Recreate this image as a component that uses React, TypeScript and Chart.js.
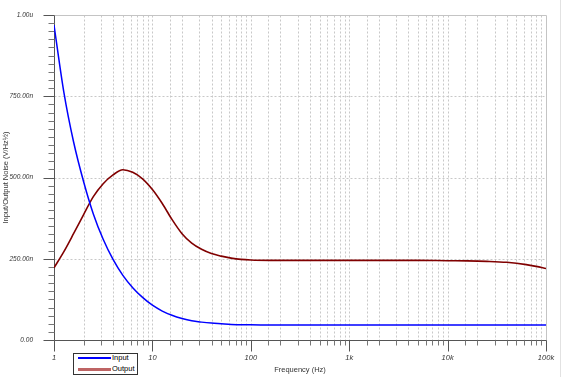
import React, { useEffect, useRef } from "react";
import { Chart, registerables } from "chart.js";

Chart.register(...registerables);

// Frequency samples (Hz)
const FREQUENCIES = [
  1, 1.26, 1.58, 2, 2.51, 3.16, 3.98, 5.01, 6.31, 7.94,
  10, 12.6, 15.8, 20, 25.1, 31.6, 39.8, 50.1, 63.1, 79.4,
  100, 158, 251, 398, 631, 1000, 2000, 5000, 10000, 15800,
  25100, 39800, 63100, 79400, 100000,
];

// Input noise (µV/√Hz)
const INPUT_NOISE = [
  0.969, 0.762, 0.61, 0.487, 0.388, 0.31, 0.248, 0.199, 0.161, 0.131,
  0.107, 0.089, 0.076, 0.066, 0.059, 0.055, 0.052, 0.05, 0.048, 0.047,
  0.047, 0.046, 0.046, 0.046, 0.046, 0.046, 0.046, 0.046, 0.046, 0.046,
  0.046, 0.046, 0.046, 0.046, 0.046,
];

// Output noise (µV/√Hz)
const OUTPUT_NOISE = [
  0.222, 0.272, 0.327, 0.386, 0.441, 0.481, 0.508, 0.524, 0.516, 0.496,
  0.463, 0.42, 0.371, 0.327, 0.298, 0.279, 0.266, 0.258, 0.252, 0.248,
  0.246, 0.245, 0.245, 0.245, 0.245, 0.245, 0.245, 0.245, 0.244, 0.2435,
  0.242, 0.239, 0.232, 0.2265, 0.22,
];

const X_DECADES = [1, 10, 100, 1000, 10000, 100000];
const X_DECADE_LABELS = ["1", "10", "100", "1k", "10k", "100k"];
const Y_MAJOR = [0, 0.25, 0.5, 0.75, 1];
const Y_MAJOR_LABELS = ["0.00", "250.00n", "500.00n", "750.00n", "1.00u"];

const FONT = "'Liberation Sans', Arial, Helvetica, sans-serif";

const isDecade = (v: number) => {
  const l = Math.log10(v);
  return Math.abs(l - Math.round(l)) < 1e-9;
};
const isYMajor = (v: number) => Math.abs(v / 0.25 - Math.round(v / 0.25)) < 1e-6;

const axesPlugin = {
  id: "customAxes",
  beforeDraw(chart: any) {
    const ctx = chart.ctx;
    ctx.save();
    ctx.fillStyle = "#ffffff";
    ctx.fillRect(0, 0, chart.width, chart.height);
    ctx.fillStyle = "#e2e2e2";
    ctx.fillRect(chart.width - 1, 0, 1, chart.height);
    ctx.restore();
  },
  beforeDatasetsDraw(chart: any) {
    const { ctx, chartArea, scales } = chart;
    const { left, right, top, bottom } = chartArea;
    const x = scales.x;
    const y = scales.y;
    const L = Math.round(left) + 0.5;
    const R = Math.round(right) + 0.5;
    const T = Math.round(top) + 0.5;
    const B = Math.round(bottom) + 0.5;
    ctx.save();
    ctx.lineWidth = 1;

    // dashed grid
    ctx.strokeStyle = "#c8c8c8";
    ctx.setLineDash([2, 2]);
    x.ticks.forEach((t: any) => {
      const px = Math.round(x.getPixelForValue(t.value)) + 0.5;
      if (px <= L + 0.1 || px >= R - 0.1) return;
      ctx.beginPath();
      ctx.moveTo(px, T);
      ctx.lineTo(px, B);
      ctx.stroke();
    });
    y.ticks.forEach((t: any) => {
      if (!isYMajor(t.value)) return;
      const py = Math.round(y.getPixelForValue(t.value)) + 0.5;
      if (py <= T + 0.1 || py >= B - 0.1) return;
      ctx.beginPath();
      ctx.moveTo(L, py);
      ctx.lineTo(R, py);
      ctx.stroke();
    });
    ctx.setLineDash([]);

    // top and right frame
    ctx.strokeStyle = "#c4c4c4";
    ctx.beginPath();
    ctx.moveTo(L, T);
    ctx.lineTo(R, T);
    ctx.lineTo(R, B);
    ctx.stroke();

    // axis lines
    ctx.strokeStyle = "#555555";
    ctx.beginPath();
    ctx.moveTo(L, T);
    ctx.lineTo(L, B);
    ctx.lineTo(R, B);
    ctx.stroke();

    // x tick marks
    x.ticks.forEach((t: any) => {
      const px = Math.round(x.getPixelForValue(t.value)) + 0.5;
      const len = isDecade(t.value) ? 11 : 5;
      ctx.strokeStyle = isDecade(t.value) ? "#555555" : "#777777";
      ctx.beginPath();
      ctx.moveTo(px, B);
      ctx.lineTo(px, B + len);
      ctx.stroke();
    });
    // y tick marks
    y.ticks.forEach((t: any) => {
      const py = Math.round(y.getPixelForValue(t.value)) + 0.5;
      const len = isYMajor(t.value) ? 11 : 6;
      ctx.strokeStyle = isYMajor(t.value) ? "#555555" : "#777777";
      ctx.beginPath();
      ctx.moveTo(L - len, py);
      ctx.lineTo(L, py);
      ctx.stroke();
    });
    ctx.restore();
  },
};

export default function App() {
  const canvasRef = useRef<HTMLCanvasElement | null>(null);

  useEffect(() => {
    if (!canvasRef.current) return;
    const chart = new Chart(canvasRef.current, {
      type: "line",
      data: {
        datasets: [
          {
            label: "Input",
            data: FREQUENCIES.map((f, i) => ({ x: f, y: INPUT_NOISE[i] })),
            borderColor: "#0000ff",
            borderWidth: 1.5,
            pointRadius: 0,
            cubicInterpolationMode: "monotone",
            fill: false,
          },
          {
            label: "Output",
            data: FREQUENCIES.map((f, i) => ({ x: f, y: OUTPUT_NOISE[i] })),
            borderColor: "#800000",
            borderWidth: 1.6,
            pointRadius: 0,
            cubicInterpolationMode: "monotone",
            fill: false,
          },
        ],
      },
      options: {
        animation: false,
        responsive: false,
        devicePixelRatio: 1,
        layout: { padding: { top: 15, right: 15, left: 0, bottom: 0 } },
        plugins: {
          legend: { display: false },
          tooltip: { enabled: false },
        },
        scales: {
          x: {
            type: "logarithmic",
            min: 1,
            max: 100000,
            grid: {
              display: true,
              drawOnChartArea: false,
              drawTicks: true,
              tickLength: 13,
              tickColor: "rgba(0,0,0,0)",
              color: "rgba(0,0,0,0)",
            },
            border: { display: false },
            afterFit: (s: any) => {
              s.height = 37;
            },
            ticks: {
              autoSkip: false,
              maxRotation: 0,
              minRotation: 0,
              padding: 0,
              color: "#333333",
              font: { family: FONT, size: 7.5, style: "italic" },
              callback: (value: any) => {
                const idx = X_DECADES.findIndex((d) => Math.abs(d - Number(value)) < 1e-6 * d);
                return idx >= 0 ? X_DECADE_LABELS[idx] : "";
              },
            },
            title: {
              display: true,
              text: "Frequency (Hz)",
              color: "#333333",
              font: { family: FONT, size: 7.5 },
              padding: { top: 0, bottom: 3 },
            },
          },
          y: {
            type: "linear",
            min: 0,
            max: 1,
            grid: {
              display: true,
              drawOnChartArea: false,
              drawTicks: true,
              tickLength: 21,
              tickColor: "rgba(0,0,0,0)",
              color: "rgba(0,0,0,0)",
            },
            border: { display: false },
            afterFit: (s: any) => {
              s.width = 54;
            },
            ticks: {
              stepSize: 0.025,
              autoSkip: false,
              padding: 0,
              color: "#333333",
              font: { family: FONT, size: 6.5, style: "italic" },
              callback: (value: any) => {
                const v = Number(value);
                const idx = Y_MAJOR.findIndex((m) => Math.abs(m - v) < 1e-6);
                return idx >= 0 ? Y_MAJOR_LABELS[idx] : "";
              },
            },
            title: {
              display: true,
              text: "Input/Output Noise (V/Hz½)",
              color: "#333333",
              font: { family: FONT, size: 7.5 },
              padding: { top: 1, bottom: 0 },
            },
          },
        },
      },
      plugins: [axesPlugin],
    });
    return () => chart.destroy();
  }, []);

  const legendText: React.CSSProperties = {
    position: "absolute",
    left: 38,
    fontFamily: FONT,
    fontSize: 7.5,
    lineHeight: "9px",
    color: "#000",
    whiteSpace: "nowrap",
  };

  return (
    <div style={{ position: "absolute", left: 0, top: 0, width: 561, height: 377, background: "#fff" }}>
      <canvas ref={canvasRef} width={561} height={377} style={{ display: "block" }} />
      <div
        style={{
          position: "absolute",
          left: 73,
          top: 353,
          width: 63,
          height: 20,
          border: "1px solid #333",
          background: "#fff",
        }}
      >
        <div style={{ position: "absolute", left: 4, top: 3, width: 33, height: 1.5, background: "#0000ff" }} />
        <div style={{ ...legendText, top: -1 }}>Input</div>
        <div style={{ position: "absolute", left: 4, top: 14, width: 33, height: 2.5, background: "#be6464" }} />
        <div style={{ ...legendText, top: 10 }}>Output</div>
      </div>
    </div>
  );
}
